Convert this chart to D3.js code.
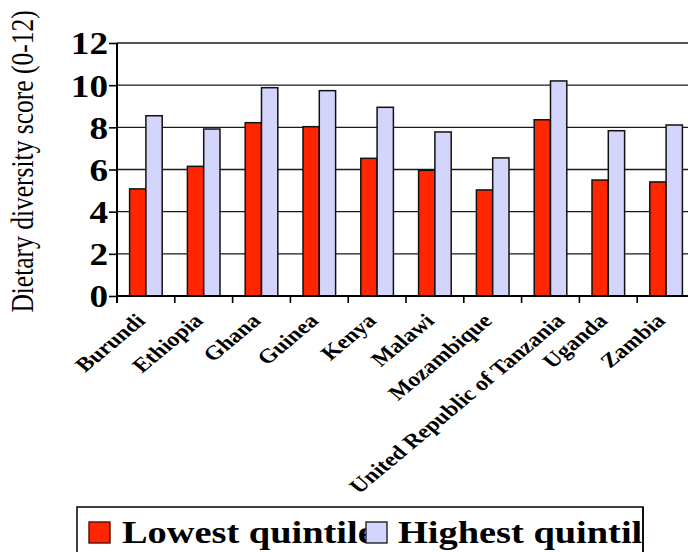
<!DOCTYPE html>
<html>
<head>
<meta charset="utf-8">
<script src="https://cdn.jsdelivr.net/npm/d3@7"></script>
<style>
  body { margin: 0; background: #fff; }
  svg { display: block; }
  text { font-family: "Liberation Serif", "Times New Roman", serif; fill: #000; }
</style>
</head>
<body>
<svg id="chart" width="688" height="552"></svg>
<script>
// Dietary diversity by wealth quintile, per country
const countries = ["Burundi", "Ethiopia", "Ghana", "Guinea", "Kenya", "Malawi",
  "Mozambique", "United Republic of Tanzania", "Uganda", "Zambia"];
const lowestQuintile  = [5.08, 6.15, 8.22, 8.03, 6.53, 5.96, 5.03, 8.36, 5.50, 5.41];
const highestQuintile = [8.55, 7.92, 9.88, 9.74, 8.95, 7.78, 6.55, 10.20, 7.84, 8.11];
const seriesNames = ["Lowest quintile", "Highest quintile"];
const seriesColors = ["#ff2600", "#d4d5fd"];
const yTicks = [0, 2, 4, 6, 8, 10, 12];
const yTitle = "Dietary diversity score (0-12)";

const rows = countries.map((c, i) => ({ country: c, values: [lowestQuintile[i], highestQuintile[i]] }));

const svg = d3.select("#chart");
const W = 688, H = 552;
const m = { left: 117, top: 43, bottom: 296, right: 695 };
const SX = 1.2; // horizontal text stretch

const x0 = d3.scaleBand().domain(countries).range([m.left, m.right])
  .paddingInner(0.436).paddingOuter(0.218);
const x1 = d3.scaleBand().domain([0, 1]).range([0, x0.bandwidth()]);
const y = d3.scaleLinear().domain([0, 12]).range([m.bottom, m.top]);

// horizontal gridlines
svg.append("g").selectAll("line").data(yTicks.filter(t => t > 0)).join("line")
  .attr("x1", m.left).attr("x2", W)
  .attr("y1", d => y(d)).attr("y2", d => y(d))
  .attr("stroke", "#1a1a1a").attr("stroke-width", 1.3);

// y axis with outward ticks
const yAxis = svg.append("g").attr("transform", `translate(${m.left},0)`)
  .call(d3.axisLeft(y).tickValues(yTicks).tickSize(8).tickSizeOuter(0).tickFormat(d3.format("d")));
yAxis.select(".domain").remove();
yAxis.selectAll(".tick line").attr("stroke", "#000").attr("stroke-width", 1.6);
yAxis.selectAll(".tick text")
  .attr("x", null)
  .attr("transform", `translate(-9,0) scale(${SX},1)`)
  .attr("dy", "0.35em")
  .attr("text-anchor", "end")
  .style("font-size", "31px").style("font-weight", "bold").attr("font-family", null);

// bars
const groups = svg.append("g").selectAll("g").data(rows).join("g")
  .attr("transform", d => `translate(${x0(d.country)},0)`);
groups.selectAll("rect").data(d => d.values.map((v, k) => ({ k, v }))).join("rect")
  .attr("x", d => x1(d.k)).attr("width", x1.bandwidth())
  .attr("y", d => y(d.v)).attr("height", d => y(0) - y(d.v))
  .attr("fill", d => seriesColors[d.k])
  .attr("stroke", "#111").attr("stroke-width", 1.5);

// x axis: boundary ticks between categories
const step = x0.step();
const bounds = d3.range(countries.length + 1).map(i => x0(countries[0]) - step * x0.paddingOuter() + i * step);
svg.append("g").selectAll("line").data(bounds).join("line")
  .attr("x1", d => d).attr("x2", d => d)
  .attr("y1", y(0)).attr("y2", y(0) + 7)
  .attr("stroke", "#000").attr("stroke-width", 1.6);
svg.append("line").attr("x1", m.left).attr("x2", W).attr("y1", y(0)).attr("y2", y(0))
  .attr("stroke", "#000").attr("stroke-width", 2.2);
svg.append("line").attr("x1", m.left).attr("x2", m.left).attr("y1", y(12)).attr("y2", y(0) + 7)
  .attr("stroke", "#000").attr("stroke-width", 2);

// rotated category labels; very long names are pushed right a little
const labelShift = d => (d.length > 20 ? 15 : 0);
svg.append("g").selectAll("text").data(countries).join("text")
  .attr("transform", d => `translate(${x0(d) + x0.bandwidth() / 2 + 0.5 + labelShift(d)},322) scale(${SX},1) rotate(-45)`)
  .attr("text-anchor", "end")
  .style("font-size", "20px").style("font-weight", "bold")
  .text(d => d);

// y axis title
svg.append("text")
  .attr("transform", `translate(33,161.5) scale(${SX},1) rotate(-90)`)
  .attr("text-anchor", "middle")
  .style("font-size", "25.5px")
  .text(yTitle);

// legend
const lg = svg.append("g");
const legX = 77, legY = 507, legR = 643;
svg.append("clipPath").attr("id", "legclip").append("rect")
  .attr("x", legX).attr("y", legY).attr("width", legR - legX).attr("height", H - legY);
lg.append("rect").attr("x", legX).attr("y", legY).attr("width", legR - legX).attr("height", 80)
  .attr("fill", "#fff").attr("stroke", "#000").attr("stroke-width", 1.5);
const legItems = [{ sq: 89, tx: 122 }, { sq: 366, tx: 398 }];
const inner = lg.append("g").attr("clip-path", "url(#legclip)");
seriesNames.forEach((name, k) => {
  inner.append("text")
    .attr("transform", `translate(${legItems[k].tx},543) scale(${SX},1)`)
    .style("font-size", "32px").style("font-weight", "bold")
    .text(name);
});
seriesNames.forEach((name, k) => {
  inner.append("rect")
    .attr("x", legItems[k].sq).attr("y", 522).attr("width", 21).attr("height", 21)
    .attr("fill", seriesColors[k]).attr("stroke", k === 0 ? "#5a0a00" : "#222").attr("stroke-width", 1.4);
});
lg.append("line").attr("x1", legR).attr("x2", legR).attr("y1", legY).attr("y2", H)
  .attr("stroke", "#000").attr("stroke-width", 1.5);
</script>
</body>
</html>
